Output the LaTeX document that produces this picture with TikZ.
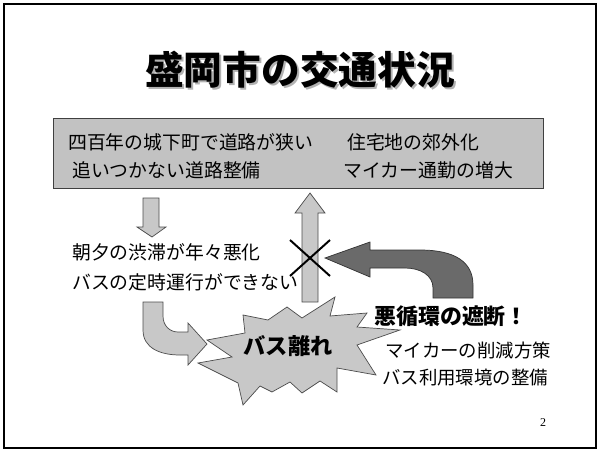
\documentclass[tikz,border=0pt]{standalone}
\usepackage{fontspec}
\setmainfont{Liberation Serif}
\newfontfamily\jp{Noto Sans CJK JP}
\definecolor{boxgray}{HTML}{C2C2C2}
\definecolor{arrowgray}{HTML}{C8C8C8}
\definecolor{darkarrow}{HTML}{6A6A6A}
\tikzset{
  line/.style={anchor=west, inner sep=0pt, font=\jp\fontsize{13.4}{16}\selectfont},
  lightarrow/.style={fill=arrowgray, draw=black!70, line width=0.5pt},
}
\begin{document}
\begin{tikzpicture}[x=0.025cm, y=-0.025cm]
\useasboundingbox (0,0) rectangle (600,454);
\draw [line width=1pt] (4,4) rectangle (596,448);
% title with shadow
\node [gray!60, font=\jp\bfseries\fontsize{27.5}{30}\selectfont] at (302,72) {盛岡市の交通状況};
\node (title) [font=\jp\bfseries\fontsize{27.5}{30}\selectfont] at (300,70) {盛岡市の交通状況};
% top box
\draw [fill=boxgray, draw=black!75, line width=0.7pt] (53,118) rectangle (543,188);
\node (old) [line] at (68,142) {四百年の城下町で道路が狭い};
\node (road) [line] at (72,170) {追いつかない道路整備};
\node (suburb) [line] at (347,142) {住宅地の郊外化};
\node (car) [line] at (343,170) {マイカー通勤の増大};
% down arrow
\draw [lightarrow] (143,198) -- (159,198) -- (159,227) -- (166,227) -- (152,237) -- (137,227) -- (143,227) -- cycle;
\node (jam) [line] at (72,252) {朝夕の渋滞が年々悪化};
\node (late) [line] at (72,282) {バスの定時運行ができない};
% up arrow
\draw [lightarrow] (302,302) -- (302,213) -- (295,213) -- (310,193) -- (325,213) -- (318,213) -- (318,302) -- cycle;
% bent arrow
\draw [lightarrow] (143,302) -- (143,330) .. controls (143,348) and (160,355) .. (180,355) -- (188,355) -- (188,365) -- (207,344) -- (188,323) -- (188,332) -- (178,332) .. controls (170,332) and (163,326) .. (163,316) -- (163,302) -- cycle;
% starburst
\draw [fill=arrowgray, draw=black!70, line width=0.5pt]
  (207,340) -- (245,333) -- (243,315) -- (268,320) -- (287,307) -- (302,318)
  -- (335,297) -- (330,316) -- (367,313) -- (357,327) -- (400,330) -- (357,345)
  -- (376,375) -- (337,368) -- (337,392) -- (320,381) -- (302,393) -- (290,382)
  -- (272,392) -- (260,386) -- (243,405) -- (238,383) -- (198,363) -- (232,357) -- cycle;
\node (leave) [font=\jp\bfseries\fontsize{15.8}{18}\selectfont] at (288,346) {バス離れ};
% dark arrow
\draw [fill=darkarrow, draw=black!80, line width=0.5pt] (325,258) -- (370,242) -- (370,250) -- (420,250) .. controls (455,250) and (473,262) .. (473,285) -- (473,298) -- (433,298) -- (433,288) .. controls (433,275) and (420,268) .. (405,268) -- (370,268) -- (370,277) -- cycle;
% cross
\draw [line width=1.4pt] (290,240) -- (330,276);
\draw [line width=1.4pt] (330,240) -- (290,276);
\node (cut) [anchor=west, inner sep=0pt, font=\jp\bfseries\fontsize{15.6}{18}\selectfont] at (374,316) {悪循環の遮断！};
\node (reduce) [line, font=\jp\fontsize{13.1}{16}\selectfont] at (385,350) {マイカーの削減方策};
\node (env) [line, font=\jp\fontsize{13.1}{16}\selectfont] at (382,378) {バス利用環境の整備};
\node (page) [font=\fontsize{8.5}{10}\selectfont] at (543,423) {2};
\end{tikzpicture}
\end{document}
